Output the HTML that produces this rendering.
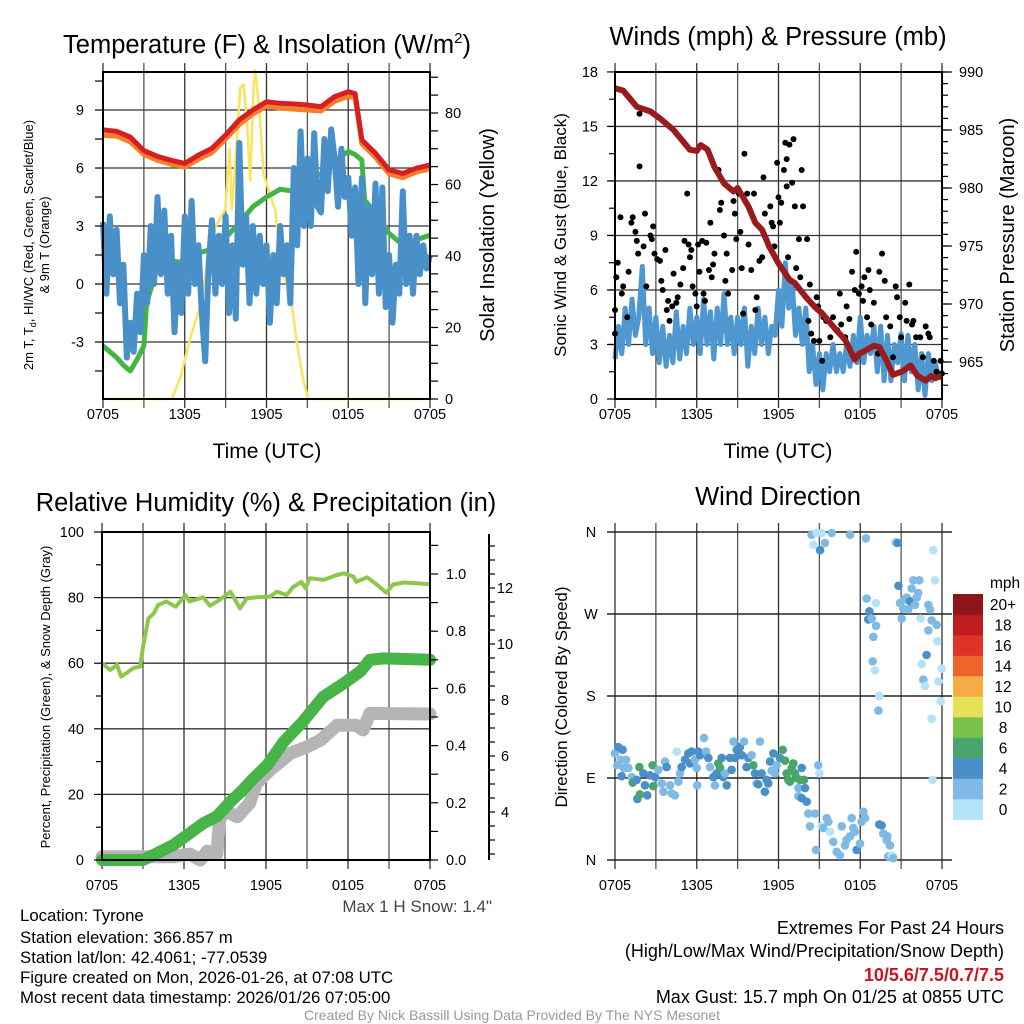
<!DOCTYPE html>
<html><head><meta charset="utf-8">
<style>
html,body{margin:0;padding:0;background:#fff;}
svg{display:block;font-family:"Liberation Sans",Arial,sans-serif;}
</style></head>
<body>
<svg id="fig" width="1024" height="1024" viewBox="0 0 1024 1024" xmlns="http://www.w3.org/2000/svg">
<rect width="1024" height="1024" fill="#fff"/>
<g id="layer"></g>
<text x="267" y="53" font-size="25.5" text-anchor="middle">Temperature (F) &amp; Insolation (W/m<tspan font-size="15" dy="-10">2</tspan><tspan dy="10">)</tspan></text>
<text x="778" y="45" font-size="25.5" text-anchor="middle">Winds (mph) &amp; Pressure (mb)</text>
<text x="266" y="511" font-size="25.5" text-anchor="middle">Relative Humidity (%) &amp; Precipitation (in)</text>
<text x="778" y="505" font-size="25.5" text-anchor="middle">Wind Direction</text>
<text x="267" y="458" font-size="21" text-anchor="middle">Time (UTC)</text>
<text x="778" y="458" font-size="21" text-anchor="middle">Time (UTC)</text>
<text transform="translate(33,245) rotate(-90)" font-size="13" text-anchor="middle">2m T, T<tspan font-size="9" dy="3">d</tspan><tspan dy="-3">, HI/WC (Red, Green, Scarlet/Blue)</tspan></text>
<text transform="translate(49,245) rotate(-90)" font-size="13" text-anchor="middle">&amp; 9m T (Orange)</text>
<text transform="translate(494,235) rotate(-90)" font-size="20" text-anchor="middle">Solar Insolation (Yellow)</text>
<text transform="translate(566,235) rotate(-90)" font-size="17" text-anchor="middle">Sonic Wind &amp; Gust (Blue, Black)</text>
<text transform="translate(1014,235) rotate(-90)" font-size="20" text-anchor="middle">Station Pressure (Maroon)</text>
<text transform="translate(50,697) rotate(-90)" font-size="13" text-anchor="middle">Percent, Precipitation (Green), &amp; Snow Depth (Gray)</text>
<text transform="translate(567,697) rotate(-90)" font-size="17" text-anchor="middle">Direction (Colored By Speed)</text>
<text x="492" y="912" font-size="17" fill="#444" text-anchor="end">Max 1 H Snow: 1.4"</text>
<g font-size="16.8" fill="#000">
<text x="20" y="921">Location: Tyrone</text>
<text x="20" y="943">Station elevation: 366.857 m</text>
<text x="20" y="963">Station lat/lon: 42.4061; -77.0539</text>
<text x="20" y="983">Figure created on Mon, 2026-01-26, at 07:08 UTC</text>
<text x="20" y="1003">Most recent data timestamp: 2026/01/26 07:05:00</text>
</g>
<g font-size="18" text-anchor="end">
<text x="1004" y="934">Extremes For Past 24 Hours</text>
<text x="1004" y="957">(High/Low/Max Wind/Precipitation/Snow Depth)</text>
<text x="1004" y="981" fill="#c8161d" font-weight="bold">10/5.6/7.5/0.7/7.5</text>
<text x="1004" y="1003">Max Gust: 15.7 mph On 01/25 at 0855 UTC</text>
</g>
<text x="512" y="1020" font-size="14" fill="#999" text-anchor="middle">Created By Nick Bassill Using Data Provided By The NYS Mesonet</text>
</svg>
<script>
// ---------- DATA ----------
var xTickHours = [0, 6, 12, 18, 24];
var xTickLabels = ['0705', '1305', '1905', '0105', '0705'];

// Panel 1: temperatures (F) and insolation
var tempTimes = [0,1,2,3,4,5,6,7,8,9,10,11,12,13,14,15,16,17,18,18.5,19,20,21,22,23,24];
var redTemp = [7.97,7.9,7.6,6.9,6.6,6.4,6.24,6.67,7.02,7.71,8.49,9.0,9.43,9.35,9.31,9.26,9.17,9.69,9.95,9.85,7.45,6.76,5.9,5.72,5.99,6.16];
var orangeTemp = [7.7,7.65,7.35,6.7,6.4,6.2,6.05,6.45,6.8,7.5,8.25,8.8,9.2,9.1,9.05,9.0,8.95,9.45,9.7,9.65,7.25,6.55,5.7,5.5,5.8,5.95];
var greenTimes = [0,0.5,1,1.5,2,2.5,3,3.2,4,5,6,7,8,9,9.8,11,12,13,14,14.5,15,16,17,18,18.5,19,19.2,20,21,22,23,24];
var greenTemp = [-3.2,-3.5,-3.8,-4.2,-4.5,-3.9,-3.2,-1.0,0.9,1.2,1.1,1.6,1.8,2.4,3.0,4.0,4.5,4.9,4.8,5.2,5.4,5.7,6.4,6.85,6.7,6.4,4.35,3.66,2.62,2.02,2.28,2.53];
var blueTemp = [3.2,-0.5,3.5,0.5, 2.8,-1.0,1.0,-3.8, -2.0,-3.5,-0.5,-2.5, 1.5,-1.0,3.0,0.0, 4.5,0.5,3.8,-0.5,
 2.5,-2.5,1.0,-1.5, 3.5,-0.5,4.3,0.0, 2.0,-1.5,-4.0,1.0, 3.3,-0.5,2.5,0.0, 3.5,-1.5,2.0,-1.8,
 7.3,1.0,3.5,-1.0, 3.0,-0.5,2.5,0.0, 2.0,-2.0,1.5,-1.0, 3.0,0.5,2.0,-1.0, 6.0,2.0,7.9,3.0,
 6.5,3.0,7.8,4.0, 3.7,7.5,4.8,8.0, 6.5,4.0,7.0,4.5, 5.5,2.5,5.0,0.0, 5.5,-1.0,4.0,0.5,
 5.2,-0.5,5.0,-1.2, 1.5,-2.0,1.0,-0.5, 4.8,0.0,2.5,-0.5, 2.5,0.5,2.0,0.8, 1.5];
var solarTimes = [0,5.06,5.67,6.4,7.14,7.62,8.24,8.97,9.29,9.46,9.82,10.07,10.31,10.56,10.8,11.05,11.17,11.49,11.78,12.27,12.63,13.12,13.73,14.22,14.71,15.08,24];
var solarVals = [0,0,6,17,26,37,48,53,70,53,72,87,88,78,61,87,92,80,63,57,53,36,30,16,5,0,0];

// Panel 2: winds (mph) and pressure (mb)
var pressTimes = [0,0.6,1.6,2.6,3.3,4.3,5.5,6.0,6.3,6.8,7.3,8.0,8.7,9.0,9.8,10.3,10.8,11.3,12.0,12.8,13.2,14.0,14.7,15.2,16.2,16.9,17.6,17.9,18.4,19.0,19.4,19.9,20.4,21.1,21.7,22.2,22.8,23.2,23.5,24];
var pressVals = [988.6,988.4,987.0,986.6,986.0,985.0,983.3,983.2,983.7,983.3,981.8,980.4,979.7,980.0,978.4,977.0,976.4,975.0,973.5,972.1,971.8,970.6,969.7,969.2,967.8,966.9,965.2,965.7,966.0,966.4,966.3,965.2,963.9,964.2,964.7,963.8,963.4,963.8,963.6,963.8];
var sonicWind = [2.2,4.0,2.5,5.0, 3.0,5.5,3.5,4.5, 7.3,3.0,5.0,2.5, 4.5,2.0,4.0,1.8, 3.5,2.0,4.8,2.2,
 4.0,2.5,5.0,3.0, 4.5,2.5,5.5,3.0, 4.8,2.2,5.0,3.0, 5.8,3.0,4.5,2.5, 4.5,3.0,5.0,1.8,
 4.0,2.5,5.0,3.0, 4.5,2.5,4.0,3.5, 6.0,4.0,7.5,5.0, 6.5,3.5,5.0,3.0, 5.0,1.5,3.0,0.8,
 2.5,0.5,2.5,1.5, 3.0,1.5,2.5,1.5, 3.0,1.8,3.5,2.0, 4.5,2.0,3.5,2.5, 4.0,1.5,4.0,1.0,
 3.5,1.0,3.0,2.0, 3.6,1.0,3.5,1.5, 3.0,0.5,2.5,0.2, 2.5,1.0,2.0,1.2, 1.5];
var gustTimes = [0,0,0.1,0.4,0.2,0.5,0.6,0.9,1.0,1.2,1.3,1.5,1.6,1.7,1.8,1.8,2.1,2.2,2.3,2.6,2.7,2.8,2.9,3.1,3.3,3.4,3.5,3.7,3.8,3.9,4.0,4.2,4.3,4.5,4.6,4.8,5.0,5.1,5.3,5.4,5.5,5.6,5.7,5.9,6.0,6.1,6.2,6.4,6.5,6.6,6.7,6.9,7.0,7.1,7.2,7.3,7.6,7.7,7.8,8.0,8.1,8.2,8.3,8.6,8.7,8.8,8.9,9.1,9.2,9.3,9.4,9.5,9.7,9.8,9.9,10.0,10.2,10.3,10.4,10.6,10.8,10.9,11.0,11.1,11.3,11.4,11.5,11.6,11.7,11.9,12.0,12.1,12.2,12.4,12.5,12.6,12.6,12.7,12.8,13.0,13.1,13.2,13.3,13.5,13.6,13.7,13.8,14.1,14.2,14.3,14.4,14.6,14.8,14.9,15.0,15.2,15.3,15.5,15.8,16.0,16.3,16.5,16.6,16.9,17.0,17.2,17.4,17.6,17.7,17.9,18.1,18.2,18.3,18.5,18.6,18.7,18.8,19.0,19.3,19.4,19.6,19.8,19.9,20.2,20.4,20.6,20.7,20.9,21.0,21.3,21.4,21.6,21.8,21.9,22.1,22.4,22.6,22.8,23.0,23.1,23.4,23.6,23.9,24.0];
var gustVals = [3.6,4.9,6.7,10.0,7.5,5.8,6.2,4.5,7.0,9.7,10.0,9.2,8.7,8.0,15.7,12.8,8.4,10.2,6.2,9.0,8.8,9.5,8.0,7.7,7.6,6.5,6.0,8.2,4.9,5.4,4.3,5.1,6.9,5.3,5.6,6.3,7.2,8.7,11.3,8.5,7.8,8.2,6.2,5.8,5.1,8.5,7.0,8.7,5.8,5.4,8.6,7.1,9.7,6.7,7.4,8.0,12.6,10.4,10.8,9.0,6.5,8.0,5.8,7.1,10.9,10.2,8.8,11.3,9.2,7.2,4.7,13.5,11.3,8.5,10.4,7.1,11.3,4.9,5.6,7.6,7.8,12.2,10.2,8.8,8.4,10.6,9.7,9.5,8.4,13.0,11.1,9.7,10.8,12.6,14.1,13.2,11.7,7.8,14.0,11.9,14.3,10.6,7.2,8.8,6.7,12.6,10.6,8.8,4.3,6.3,3.6,3.2,5.6,5.1,3.2,2.1,4.5,4.3,3.4,4.5,3.8,5.8,4.1,3.4,5.1,4.4,7.0,6.0,8.1,5.8,6.2,5.4,6.7,4.5,7.1,6.0,4.1,5.3,2.5,7.0,8.0,6.5,4.5,4.0,2.3,6.2,5.6,4.5,3.4,5.3,4.3,6.3,4.1,4.3,3.4,3.4,2.3,4.0,3.6,3.4,2.1,1.5,2.1,1.4];

// Panel 3: RH (%), precipitation (in), snow depth (in)
var rhTimes = [0,0.6,1.1,1.4,1.8,2.3,2.8,3.0,3.4,3.8,4.1,4.7,5.4,6.1,6.4,7.4,7.9,8.6,9.4,10.1,10.6,11.3,12.3,12.8,13.5,14.0,14.6,14.9,15.2,16.2,17.2,17.7,18.4,18.6,19.4,20.1,20.8,21.3,22.1,23.0,24];
var rhVals = [60.0,57.9,59.5,55.9,57.0,58.5,59.0,65.0,73.7,75.2,77.7,78.8,77.2,80.8,78.8,80.1,77.5,79.3,81.8,76.7,79.8,80.1,80.3,81.8,80.8,83.3,84.8,82.8,85.9,85.4,86.9,87.4,86.4,84.8,86.2,84.0,81.5,84.0,84.6,84.4,84.1];
var precipTimes = [0,3.0,4.0,5.2,6.4,7.4,8.4,9.4,10.3,11.1,12.1,13.3,14.7,16.2,17.7,18.9,19.6,20.6,24];
var precipVals = [0,0,0.023,0.052,0.093,0.128,0.152,0.204,0.245,0.286,0.332,0.414,0.484,0.571,0.618,0.659,0.70,0.705,0.70];
var snowTimes = [0,5.2,6.4,7.2,7.7,8.4,8.6,8.9,9.9,10.8,11.3,12.3,13.8,15.0,16.0,17.2,18.6,19.1,19.6,24];
var snowVals = [2.4,2.4,2.5,2.2,2.6,2.5,3.7,4.07,3.83,4.31,5.02,5.5,6.1,6.33,6.57,7.1,7.1,6.93,7.52,7.5];

// Panel 4: wind direction (deg) & speed (mph)
var dirTimes = [0.0,0.24,0.56,0.17,0.42,0.81,0.66,0.98,0.49,1.22,1.3,1.59,1.64,1.83,1.79,2.08,2.2,2.37,2.57,2.76,2.81,2.94,3.18,3.43,3.55,3.67,3.79,4.04,4.16,4.4,4.53,4.65,4.77,4.89,5.14,5.38,5.5,5.63,5.87,6.0,6.04,6.12,6.24,6.53,6.68,6.85,6.97,7.22,7.34,7.46,7.58,7.71,7.83,7.95,8.07,8.2,8.44,8.56,8.69,8.81,8.93,9.17,9.3,9.47,9.66,9.79,10.03,10.15,10.28,10.4,10.52,10.64,10.76,11.0,11.13,11.25,11.38,11.5,11.62,11.74,11.87,12.11,12.31,12.48,12.6,12.72,12.84,12.97,13.09,13.21,13.33,13.46,13.58,13.7,13.87,13.95,14.07,13.46,13.7,14.19,14.31,14.68,14.92,15.0,14.75,15.17,15.29,15.54,15.66,15.78,16.02,16.27,16.51,16.64,16.88,17.0,17.25,17.37,17.49,17.61,17.74,17.98,18.1,18.23,18.35,19.4,19.57,19.69,19.94,20.18,20.06,20.31,20.43,19.99,
 14.43,14.56,14.8,15.05,15.17,15.41,15.9,17.25,18.42,20.55,20.72,23.36,18.47,18.67,18.59,18.84,19.16,19.16,18.96,18.91,19.08,19.4,19.33,20.8,20.92,21.04,21.16,21.28,21.41,21.53,21.65,21.9,22.02,22.14,22.26,22.34,21.77,22.43,23.0,23.12,23.24,23.49,23.61,23.0,22.87,22.51,22.63,22.75,23.98,23.73,23.9,23.24,23.66,23.31];
var dirDegs = [117,124,121,104,110,110,101,101,92,91,85,88,67,72,102,95,82,71,93,104,81,91,99,84,75,108,102,82,73,71,119,86,95,102,110,117,106,119,110,101,82,119,115,134,119,112,102,91,82,95,106,101,112,91,95,82,112,99,130,112,121,124,115,130,102,112,115,104,95,84,83,130,95,75,88,84,108,98,117,95,104,112,121,109,95,88,86,101,106,95,90,79,88,101,88,79,64,70,68,51,37,51,104,95,11,37,35,46,42,31,20,9,5,37,16,22,26,46,35,31,11,18,42,53,46,39,38,29,22,16,4,5,2,26,
 357,346,359,340,359,348,359,357,353,349,348,340,287,273,264,265,282,257,245,218,208,180,164,301,282,265,276,286,288,275,284,307,280,288,293,307,298,265,280,275,263,307,258,252,225,215,198,191,210,196,174,155,240,88];
var dirSpeeds = [3,5,5,3,3,3,3,3,5,3,7,5,5,7,7,5,5,5,5,7,7,5,3,3,3,3,5,3,3,3,1,3,3,5,5,5,5,5,3,3,3,5,5,3,3,5,3,5,3,5,7,7,5,5,3,5,5,5,3,5,5,5,5,3,5,5,3,7,5,3,5,3,5,5,5,5,5,3,5,3,3,5,7,7,7,7,7,7,7,7,7,3,7,5,7,5,5,3,5,3,3,3,3,1,3,1,3,3,3,1,3,3,3,3,3,3,3,3,3,3,5,3,3,3,3,5,5,3,3,3,3,1,3,3,
 3,1,1,5,1,3,3,3,3,1,5,1,3,5,5,3,1,3,3,3,1,1,3,5,3,3,3,3,3,3,5,3,3,3,3,3,3,1,3,3,3,1,3,3,5,1,3,1,1,1,1,1,1,1];
var speedBins = ['0','2','4','6','8','10','12','14','16','18','20+'];
var speedColors = ['#b4e2f8','#7ebae3','#4a8fc7','#4aa56c','#7cc24a','#e6e05a','#f6ab47','#ee652b','#df3327','#bf1c22','#8e1519'];

// ---------- DRAWING ----------
var NS = 'http://www.w3.org/2000/svg';
var layer = document.getElementById('layer');
function mk(tag, attrs, parent) {
  var e = document.createElementNS(NS, tag);
  for (var k in attrs) e.setAttribute(k, attrs[k]);
  (parent || layer).appendChild(e);
  return e;
}
function makeX(L, R) { return function (t) { return L + t * (R - L) / 24; }; }
function pathFrom(ts, vs, xf, yf) {
  var d = '';
  for (var i = 0; i < ts.length; i++) d += (i ? 'L' : 'M') + xf(ts[i]).toFixed(1) + ',' + yf(vs[i]).toFixed(1);
  return d;
}
function quarterTimes(n) { var a = []; for (var i = 0; i < n; i++) a.push(i * 0.25); return a; }

function drawFrame(name, L, R, T, B, hGridVals, yf, labelOffset) {
  var g = mk('g', {});
  
  
  var xf = makeX(L, R);
  for (var h = 0; h <= 24; h += 3) {
    var x = xf(h);
    var ln = mk('line', {x1: x, x2: x, y1: T - 9, y2: B + 9, stroke: (h % 6 === 0) ? '#333' : '#555', 'stroke-width': 1.3}, g);
    
    
  }
  for (var i = 0; i < hGridVals.length; i++) {
    var y = yf(hGridVals[i]);
    var hl = mk('line', {x1: L, x2: R, y1: y, y2: y, stroke: '#333', 'stroke-width': 1.3}, g);
    
    
  }
  for (var j = 0; j < xTickHours.length; j++) {
    var tl = mk('text', {x: xf(xTickHours[j]), y: B + labelOffset, 'font-size': 14.5, 'text-anchor': 'middle'}, g);
    tl.textContent = xTickLabels[j];
    
    
  }
  return xf;
}
function drawBox(name, L, R, T, B) {
  var r = mk('rect', {x: L, y: T, width: R - L, height: B - T, fill: 'none', stroke: '#000', 'stroke-width': 2});
  
  
}
function yTicks(name, axisX, vals, labels, yf, dir, len, anchorX, anchor) {
  for (var i = 0; i < vals.length; i++) {
    var y = yf(vals[i]);
    var t = mk('line', {x1: axisX, x2: axisX + dir * len, y1: y, y2: y, stroke: '#000', 'stroke-width': 1.2});
    
    
    if (labels && labels[i] !== '') {
      var tx = mk('text', {x: anchorX, y: y + 5, 'font-size': 14.5, 'text-anchor': anchor});
      tx.textContent = labels[i];
      
      
    }
  }
}
function range(a, b, s) { var r = []; for (var v = a; v <= b + 1e-9; v += s) r.push(+v.toFixed(3)); return r; }

// ===== Panel 1 =====
(function () {
  var L = 103, R = 430, T = 72, B = 399;
  var yT = function (v) { return 284 - v * 19.33; };
  var yS = function (v) { return 399 - v * 3.575; };
  var xf = drawFrame('temp', L, R, T, B, [-3, 0, 3, 6, 9], yT, 20);
  var yel = mk('path', {d: pathFrom(solarTimes, solarVals, xf, yS), fill: 'none', stroke: '#fde35a', 'stroke-width': 2.5, 'stroke-linejoin': 'round'});
  
  
  var gr = mk('path', {d: pathFrom(greenTimes, greenTemp, xf, yT), fill: 'none', stroke: '#43b543', 'stroke-width': 5, 'stroke-linejoin': 'round'});
  
  
  var bl = mk('path', {d: pathFrom(quarterTimes(blueTemp.length), blueTemp, xf, yT), fill: 'none', stroke: '#4a90c8', 'stroke-width': 6, 'stroke-linejoin': 'round'});
  
  
  var or = mk('path', {d: pathFrom(tempTimes, orangeTemp, xf, yT), fill: 'none', stroke: '#f27f2b', 'stroke-width': 5, 'stroke-linejoin': 'round'});
  
  
  var rd = mk('path', {d: pathFrom(tempTimes, redTemp, xf, yT), fill: 'none', stroke: '#d71e22', 'stroke-width': 5, 'stroke-linejoin': 'round'});
  
  
  drawBox('temp', L, R, T, B);
  yTicks('temp-y', L, range(-4.5, 10.5, 1.5), range(-4.5, 10.5, 1.5).map(function (v) { return v % 3 === 0 ? String(v) : ''; }), yT, -1, 8, 84, 'end');
  yTicks('insolation-y', R, range(0, 90, 5), range(0, 90, 5).map(function (v) { return v % 20 === 0 ? String(v) : ''; }), yS, 1, 8, 445, 'start');
})();

// ===== Panel 2 =====
(function () {
  var L = 615, R = 942, T = 72, B = 399;
  var yW = function (v) { return 399 - v * 18.17; };
  var yP = function (p) { return 72 + (990 - p) * 11.6; };
  var xf = drawFrame('wind', L, R, T, B, [3, 6, 9, 12, 15], yW, 20);
  var bl = mk('path', {d: pathFrom(quarterTimes(sonicWind.length), sonicWind, xf, yW), fill: 'none', stroke: '#4f97d0', 'stroke-width': 5, 'stroke-linejoin': 'round'});
  
  
  var gg = mk('g', {});
  
  
  for (var i = 0; i < gustTimes.length; i++) {
    var c = mk('circle', {cx: xf(gustTimes[i]), cy: yW(gustVals[i]), r: 3, fill: '#000'}, gg);
    
    
  }
  var pr = mk('path', {d: pathFrom(pressTimes, pressVals, xf, yP), fill: 'none', stroke: '#9b1a1c', 'stroke-width': 6, 'stroke-linejoin': 'round'});
  
  
  drawBox('wind', L, R, T, B);
  yTicks('wind-y', L, range(1.5, 16.5, 1.5), null, yW, -1, 6, 0, 'end');
  yTicks('wind-y', L, range(0, 18, 3), range(0, 18, 3).map(String), yW, -1, 8, 598, 'end');
  yTicks('pressure-y', R, range(963, 990, 1), range(963, 990, 1).map(function (v) { return v % 5 === 0 ? String(v) : ''; }), yP, 1, 6, 959, 'start');
  yTicks('pressure-y', R, range(965, 990, 5), null, yP, 1, 10, 0, 'start');
})();

// ===== Panel 3 =====
(function () {
  var L = 102, R = 430, T = 532, B = 860;
  var yH = function (v) { return 860 - v * 3.28; };
  var yPr = function (v) { return 860 - v * 286; };
  var ySn = function (s) { return Math.min(860, 812 - (s - 4) * 28); };
  var xf = drawFrame('rh', L, R, T, B, [20, 40, 60, 80], yH, 30);
  var sn = mk('path', {d: pathFrom(snowTimes, snowVals, xf, ySn), fill: 'none', stroke: '#b5b5b5', 'stroke-width': 13, 'stroke-linejoin': 'round', 'stroke-linecap': 'round'});
  
  
  var pc = mk('path', {d: pathFrom(precipTimes, precipVals, xf, yPr), fill: 'none', stroke: '#47b447', 'stroke-width': 12, 'stroke-linejoin': 'round', 'stroke-linecap': 'round'});
  
  
  var rh = mk('path', {d: pathFrom(rhTimes, rhVals, xf, yH), fill: 'none', stroke: '#8dc84a', 'stroke-width': 4, 'stroke-linejoin': 'round'});
  
  
  drawBox('rh', L, R, T, B);
  yTicks('rh-y', L, range(10, 90, 20), null, yH, -1, 6, 0, 'end');
  yTicks('rh-y', L, range(0, 100, 20), range(0, 100, 20).map(String), yH, -1, 8, 84, 'end');
  yTicks('precip-y', R, range(0, 1.1, 0.1), range(0, 1.1, 0.1).map(function (v) { return Math.round(v * 10) % 2 === 0 ? v.toFixed(1) : ''; }), yPr, 1, 8, 446, 'start');
  var ax = mk('line', {x1: 489, x2: 489, y1: 534, y2: 860, stroke: '#000', 'stroke-width': 2});
  
  
  yTicks('snow-y', 489, range(2.5, 13.5, 0.5), range(2.5, 13.5, 0.5).map(function (v) { return (v % 2 === 0 && v >= 4 && v <= 12) ? String(v) : ''; }), ySn, 1, 6, 505, 'middle');
})();

// ===== Panel 4 =====
(function () {
  var L = 615, R = 942, T = 532, B = 860;
  var yD = function (d) { return 860 - d * 328 / 360; };
  var xf = drawFrame('dir', L, R, T, B, [], yD, 30);
  var dirVals = [0, 90, 180, 270, 360];
  var dirLabels = ['N', 'E', 'S', 'W', 'N'];
  for (var i = 0; i < dirVals.length; i++) {
    var y = yD(dirVals[i]);
    var hl = mk('line', {x1: L - 8, x2: R + 10, y1: y, y2: y, stroke: '#222', 'stroke-width': 1.4});
    
    
    var tx = mk('text', {x: 591, y: y + 5, 'font-size': 14.5, 'text-anchor': 'middle'});
    tx.textContent = dirLabels[i];
    
    
  }
  var g = mk('g', {});
  
  
  for (var k = 0; k < dirTimes.length; k++) {
    var bin = Math.min(10, Math.floor(dirSpeeds[k] / 2));
    var c = mk('circle', {cx: xf(dirTimes[k]), cy: yD(dirDegs[k]), r: 4.3, fill: speedColors[bin]}, g);
    
    
  }
  var lg = mk('g', {});
  
  
  var mt = mk('text', {x: 990, y: 588, 'font-size': 15.5}, lg);
  mt.textContent = 'mph';
  
  
  for (var s = 0; s < speedBins.length; s++) {
    var top = 594 + (10 - s) * 20.5;
    var rc = mk('rect', {x: 953, y: top, width: 30, height: 20.8, fill: speedColors[s]}, lg);
    
    
    var lt = mk('text', {x: 1003, y: top + 16, 'font-size': 15.5, 'text-anchor': 'middle'}, lg);
    lt.textContent = speedBins[s];
    
    
  }
})();
</script>
</body></html>
